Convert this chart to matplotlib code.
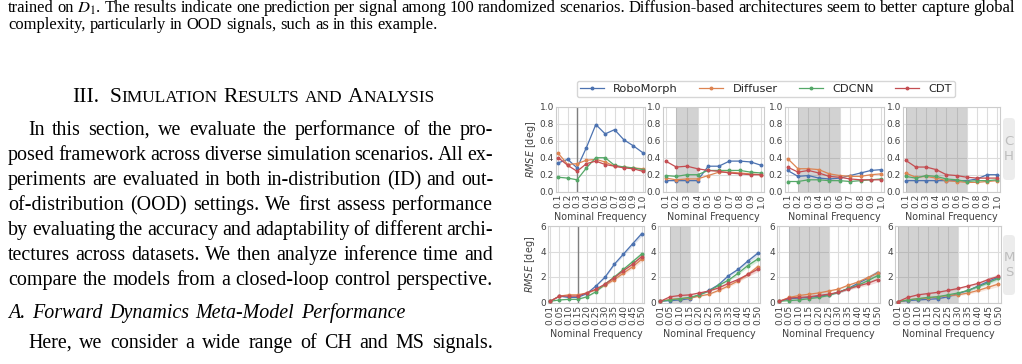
import matplotlib
matplotlib.use('Agg')
import matplotlib.pyplot as plt
import numpy as np
from matplotlib.patches import FancyBboxPatch
from matplotlib.lines import Line2D

W, H = 1022, 364
SERIF = 'Liberation Serif'

# ---- data ----
models = ['RoboMorph', 'Diffuser', 'CDCNN', 'CDT']
colors = ['#4C72B0', '#DD8452', '#55A868', '#C44E52']

ch_freq = ['0.1', '0.2', '0.3', '0.4', '0.5', '0.6', '0.7', '0.8', '0.9', '1.0']
ms_freq = ['0.01', '0.05', '0.10', '0.15', '0.20', '0.25', '0.30', '0.35', '0.40', '0.45', '0.50']

# CH signals, one list per panel
ch_robomorph = [[0.34, 0.38, 0.28, 0.52, 0.79, 0.68, 0.73, 0.61, 0.54, 0.46],
                [0.13, 0.13, 0.13, 0.13, 0.30, 0.30, 0.36, 0.36, 0.35, 0.31],
                [0.25, 0.18, 0.19, 0.16, 0.15, 0.16, 0.19, 0.22, 0.25, 0.26],
                [0.13, 0.13, 0.13, 0.13, 0.13, 0.13, 0.13, 0.15, 0.20, 0.20]]
ch_diffuser = [[0.45, 0.32, 0.33, 0.37, 0.38, 0.35, 0.30, 0.29, 0.28, 0.27],
               [0.16, 0.14, 0.15, 0.15, 0.19, 0.23, 0.23, 0.22, 0.21, 0.20],
               [0.39, 0.27, 0.27, 0.26, 0.21, 0.19, 0.18, 0.18, 0.20, 0.21],
               [0.22, 0.17, 0.18, 0.16, 0.13, 0.12, 0.11, 0.11, 0.12, 0.13]]
ch_cdcnn = [[0.17, 0.16, 0.14, 0.28, 0.40, 0.40, 0.31, 0.29, 0.28, 0.26],
            [0.19, 0.18, 0.20, 0.20, 0.25, 0.25, 0.25, 0.25, 0.23, 0.22],
            [0.12, 0.12, 0.14, 0.14, 0.13, 0.13, 0.12, 0.13, 0.14, 0.15],
            [0.18, 0.16, 0.19, 0.18, 0.15, 0.14, 0.12, 0.13, 0.13, 0.14]]
ch_cdt = [[0.40, 0.31, 0.24, 0.33, 0.36, 0.32, 0.30, 0.28, 0.27, 0.24],
          [0.36, 0.29, 0.30, 0.27, 0.25, 0.24, 0.22, 0.21, 0.20, 0.20],
          [0.29, 0.23, 0.25, 0.22, 0.18, 0.17, 0.15, 0.14, 0.14, 0.14],
          [0.37, 0.29, 0.29, 0.26, 0.20, 0.19, 0.17, 0.16, 0.16, 0.16]]

# MS signals
ms_robomorph = [[0.1, 0.5, 0.4, 0.4, 0.7, 1.3, 2.0, 3.0, 3.8, 4.6, 5.4],
                [0.1, 0.15, 0.2, 0.3, 0.6, 0.95, 1.4, 2.1, 2.6, 3.25, 3.85],
                [0.1, 0.3, 0.35, 0.4, 0.5, 0.6, 0.8, 1.1, 1.5, 1.9, 2.35],
                [0.05, 0.15, 0.2, 0.25, 0.3, 0.45, 0.7, 0.95, 1.3, 1.65, 2.0]]
ms_diffuser = [[0.1, 0.5, 0.6, 0.6, 0.75, 1.0, 1.35, 1.8, 2.3, 2.8, 3.4],
               [0.1, 0.25, 0.3, 0.35, 0.5, 0.65, 0.95, 1.3, 1.7, 2.2, 2.8],
               [0.1, 0.4, 0.55, 0.65, 0.75, 0.9, 1.05, 1.35, 1.6, 1.95, 2.3],
               [0.05, 0.2, 0.3, 0.35, 0.45, 0.55, 0.6, 0.75, 0.95, 1.2, 1.45]]
ms_cdcnn = [[0.1, 0.2, 0.25, 0.25, 0.45, 0.85, 1.45, 2.0, 2.6, 3.2, 3.8],
            [0.1, 0.2, 0.3, 0.4, 0.6, 0.9, 1.35, 1.75, 2.3, 2.9, 3.4],
            [0.1, 0.15, 0.2, 0.3, 0.4, 0.55, 0.8, 1.1, 1.35, 1.7, 2.1],
            [0.05, 0.2, 0.3, 0.4, 0.45, 0.6, 0.75, 0.95, 1.25, 1.55, 1.9]]
ms_cdt = [[0.1, 0.5, 0.5, 0.5, 0.75, 1.05, 1.45, 1.95, 2.5, 3.0, 3.6],
          [0.1, 0.45, 0.55, 0.6, 0.75, 0.9, 1.15, 1.5, 1.8, 2.2, 2.6],
          [0.1, 0.35, 0.4, 0.45, 0.55, 0.65, 0.8, 1.05, 1.3, 1.5, 1.8],
          [0.05, 0.4, 0.6, 0.7, 0.8, 0.95, 1.1, 1.3, 1.5, 1.8, 2.05]]
ms_spread = [0.0, 0.02, 0.03, 0.03, 0.04, 0.05, 0.07, 0.09, 0.12, 0.15, 0.2]

# training region per panel (shaded) and boundary line
ch_shade = [None, ('0.2', '0.4'), ('0.2', '0.6'), ('0.1', '0.7')]
ms_shade = [None, ('0.05', '0.15'), ('0.05', '0.25'), ('0.01', '0.30')]
ch_vline = '0.3'
ms_vline = '0.15'

caption = ["trained on $D_1$. The results indicate one prediction per signal among 100 randomized scenarios. "
           "Diffusion-based architectures seem to better capture global",
           "complexity, particularly in OOD signals, such as in this example."]
body = ["In this section, we evaluate the performance of the pro-",
        "posed framework across diverse simulation scenarios. All ex-",
        "periments are evaluated in both in-distribution (ID) and out-",
        "of-distribution (OOD) settings. We first assess performance",
        "by evaluating the accuracy and adaptability of different archi-",
        "tectures across datasets. We then analyze inference time and",
        "compare the models from a closed-loop control perspective."]
subsection = "A. Forward Dynamics Meta-Model Performance"
last_line = "Here, we consider a wide range of CH and MS signals."

fig = plt.figure(figsize=(W / 100, H / 100), dpi=100, facecolor='w')
renderer = fig.canvas.get_renderer()


def fx(px):
  return px / W


def fy(py):
  return 1 - py / H


def measure(s, size, style='normal'):
  t = fig.text(0, 0, s, fontsize=size, family=SERIF, style=style, math_fontfamily='stix')
  w = t.get_window_extent(renderer).width
  t.remove()
  return w


def put_line(s, x0, x1, base, size, style='normal', justify=True):
  words = s.split(' ')
  widths = [measure(w, size, style) for w in words]
  if justify and len(words) > 1:
    gap = (x1 - x0 - sum(widths)) / (len(words) - 1)
  else:
    gap = measure('a a', size, style) - measure('aa', size, style)
  x = x0
  for w, wd in zip(words, widths):
    fig.text(fx(x), fy(base), w, fontsize=size, family=SERIF, style=style,
             math_fontfamily='stix', va='baseline', ha='left')
    x += wd + gap


# ---- page text ----
cap_size = 10 * 429 / measure(caption[1], 10)
put_line(caption[0], 8, 1015, 12.5, cap_size)
put_line(caption[1], 8, 1015, 29, cap_size, justify=False)

body_size = 10 * 478 / measure(body[6], 10)

# section heading in small caps, fitted to its width in the page
runs = [('III.', 1), (None, 2), ('S', 1), ('IMULATION', 0.8), (None, 1), ('R', 1), ('ESULTS', 0.8),
        (None, 1), ('AND', 0.8), (None, 1), ('A', 1), ('NALYSIS', 0.8)]


def heading_width(size):
  sp = measure('a a', size) - measure('aa', size)
  return sum(sp * k if s is None else measure(s, size * k) for s, k in runs)


head_size = body_size * 361 / heading_width(body_size)
sp = measure('a a', head_size) - measure('aa', head_size)
x = 72
for s, k in runs:
  if s is None:
    x += sp * k
    continue
  fig.text(fx(x), fy(102), s, fontsize=head_size * k, family=SERIF, va='baseline')
  x += measure(s, head_size * k)

for i, s in enumerate(body):
  put_line(s, 28 if i == 0 else 8, 493, 135 + 25 * i, body_size)
put_line(subsection, 8, 405, 318, body_size, style='italic')
put_line(last_line, 28, 493, 348, body_size)

# ---- chart ----
top_box = [(556, 645), (663, 764), (785, 884), (903, 1000)]
bot_box = [(548, 644), (658, 760), (777, 880), (895, 1001)]
top_y = (106.7, 191.7)
bot_y = (226, 302.5)


def make_ax(xr, yr):
  return fig.add_axes([fx(xr[0]), fy(yr[1]), (xr[1] - xr[0]) / W, (yr[1] - yr[0]) / H])


def style_ax(ax, labels, ylim, yticks, yfmt, xpad):
  n = len(labels)
  ax.set_xlim(-0.25, n - 0.75)
  ax.set_xticks(range(n))
  ax.set_xticklabels(labels, rotation=90, fontsize=6.5, color='.25')
  ax.set_ylim(*ylim)
  ax.set_yticks(yticks)
  ax.set_yticklabels([yfmt.format(v) for v in yticks], fontsize=6.5, color='.25')
  ax.tick_params(length=0, pad=1.5)
  ax.grid(True, color='#dcdcdc', lw=0.8)
  ax.set_axisbelow(True)
  for s in ax.spines.values():
    s.set_color('#cccccc')
    s.set_linewidth(0.8)
  ax.set_xlabel('Nominal Frequency', fontsize=6.9, color='.25', labelpad=xpad)


ch_data = [ch_robomorph, ch_diffuser, ch_cdcnn, ch_cdt]
ms_data = [ms_robomorph, ms_diffuser, ms_cdcnn, ms_cdt]

for p in range(4):
  # CH row
  ax = make_ax(top_box[p], top_y)
  xs = np.arange(len(ch_freq))
  if ch_shade[p] is not None:
    ax.axvspan(ch_freq.index(ch_shade[p][0]), ch_freq.index(ch_shade[p][1]),
               color='gray', alpha=0.35, lw=0, zorder=1)
  for m in range(4):
    ax.plot(xs, ch_data[m][p], color=colors[m], lw=0.9, marker='o', ms=1.8, zorder=3)
  if p == 0:
    ax.axvline(ch_freq.index(ch_vline), color='#7f7f7f', lw=1.0, zorder=2)
    ax.set_ylabel('$RMSE$ [deg]', fontsize=6.9, color='.25', labelpad=1)
  style_ax(ax, ch_freq, (0, 1.0), [0, 0.2, 0.4, 0.6, 0.8, 1.0], '{:.1f}', 2.5)

  # MS row
  ax = make_ax(bot_box[p], bot_y)
  xs = np.arange(len(ms_freq))
  if ms_shade[p] is not None:
    ax.axvspan(ms_freq.index(ms_shade[p][0]), ms_freq.index(ms_shade[p][1]),
               color='gray', alpha=0.35, lw=0, zorder=1)
  for m in range(4):
    y = np.array(ms_data[m][p])
    ax.fill_between(xs, y - ms_spread, y + ms_spread, color=colors[m], alpha=0.2, lw=0, zorder=2)
    ax.plot(xs, y, color=colors[m], lw=0.9, marker='o', ms=1.8, zorder=3)
  if p == 0:
    ax.axvline(ms_freq.index(ms_vline), color='#7f7f7f', lw=1.0, zorder=2)
    ax.set_ylabel('$RMSE$ [deg]', fontsize=6.9, color='.25', labelpad=2)
  style_ax(ax, ms_freq, (0, 6), [0, 2, 4, 6], '{:d}', 3)

handles = [Line2D([], [], color=c, lw=0.9, marker='o', ms=1.8) for c in colors]
leg = fig.legend(handles, models, loc='center', bbox_to_anchor=(fx(766), fy(89)), ncol=4,
                 fontsize=8.2, frameon=True, fancybox=True, edgecolor='#cccccc',
                 handlelength=2.1, columnspacing=1.9, borderpad=0.3, handletextpad=0.8)
for t in leg.get_texts():
  t.set_color('.15')

# row labels on the right
for letters, ytop, ybot in [('C\nH', 118, 180), ('M\nS', 235, 295)]:
  box = FancyBboxPatch((1003 / 100, (H - ybot) / 100), 12 / 100, (ybot - ytop) / 100,
                       boxstyle='round,pad=0,rounding_size=0.04', transform=fig.dpi_scale_trans,
                       facecolor='#ececec', edgecolor='none')
  fig.patches.append(box)
  fig.text(fx(1009), fy((ytop + ybot) / 2), letters, fontsize=9.5, color='#bdbdbd',
           ha='center', va='center', linespacing=1.15)

fig.savefig('out.png', dpi=100, facecolor='w')
